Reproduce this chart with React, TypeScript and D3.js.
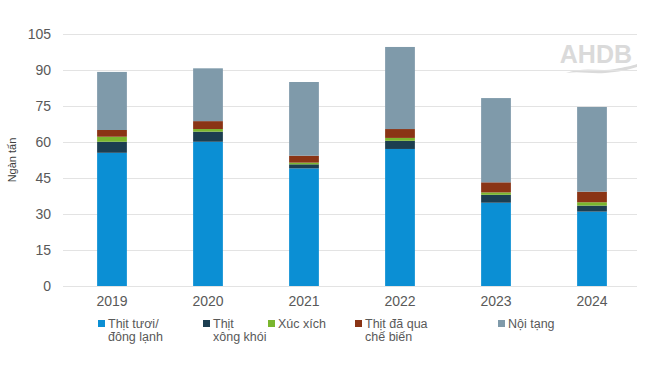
import React from "react";
import * as d3 from "d3";

const years = ["2019", "2020", "2021", "2022", "2023", "2024"];
const seriesNames = ["Thịt tươi/ đông lạnh", "Thịt xông khói", "Xúc xích", "Thịt đã qua chế biến", "Nội tạng"];
const fresh = [55.5, 60.1, 49.0, 57.1, 34.7, 31.0];
const smoked = [4.6, 4.2, 1.7, 3.4, 3.3, 2.5];
const sausage = [2.1, 1.1, 0.7, 1.2, 1.0, 1.4];
const processed = [2.8, 3.3, 2.9, 3.7, 4.2, 4.4];
const offal = [24.2, 22.0, 30.7, 34.2, 35.1, 35.3];
const yTicks = [0, 15, 30, 45, 60, 75, 90, 105];

const colors = ["#0b8fd4", "#1c3e50", "#7ab62e", "#8a3415", "#7f9aaa"];
const legendLines = [["Thịt tươi/", "đông lạnh"], ["Thịt", "xông khói"], ["Xúc xích"], ["Thịt đã qua", "chế biến"], ["Nội tạng"]];
const legendX = [98, 203, 268, 355, 498];

export default function App() {
  const width = 650;
  const height = 366;
  const svgRef = React.useRef<SVGSVGElement>(null);

  React.useEffect(() => {
    const svg = d3.select(svgRef.current);
    svg.selectAll("*").remove();

    const x = d3.scaleBand().domain(years).range([64, 640]).paddingInner(0.69).paddingOuter(0.345);
    const y = d3.scaleLinear().domain([0, 105]).range([286, 34]);

    const rows = years.map((yr, i) => ({
      year: yr,
      s0: fresh[i], s1: smoked[i], s2: sausage[i], s3: processed[i], s4: offal[i],
    }));
    const stack = d3.stack<any>().keys(["s0", "s1", "s2", "s3", "s4"]);
    const layers = stack(rows);

    // logo, behind the grid
    svg.append("text")
      .attr("x", 632)
      .attr("y", 63)
      .attr("text-anchor", "end")
      .style("font-size", "25px")
      .style("font-weight", "bold")
      .style("font-family", "Liberation Sans, Arial, sans-serif")
      .style("fill", "#dadada")
      .text("AHDB");
    svg.append("path")
      .attr("d", "M566,73 C585,66 600,72 615,69 C625,67 632,66 637,64 L637,67 C628,70 618,72 605,73 C590,74 580,71 566,73 Z")
      .attr("fill", "#dadada");

    // grid
    const yAxis = d3.axisLeft(y).tickValues(yTicks).tickSize(-574).tickPadding(12);
    svg.append("g")
      .attr("transform", "translate(63,0)")
      .call(yAxis)
      .call((g) => g.select(".domain").remove())
      .call((g) => g.selectAll(".tick line").attr("stroke", "#e3e3e3"))
      .selectAll("text")
      .style("font-size", "14px")
      .style("font-family", "Liberation Sans, Arial, sans-serif")
      .style("fill", "#595959");

    svg.append("g")
      .selectAll("g")
      .data(layers)
      .join("g")
      .attr("fill", (d, i) => colors[i])
      .selectAll("rect")
      .data((d) => d)
      .join("rect")
      .attr("x", (d: any) => x(d.data.year)!)
      .attr("width", x.bandwidth())
      .attr("y", (d) => y(d[1]))
      .attr("height", (d) => y(d[0]) - y(d[1]));

    const xAxis = d3.axisBottom(x).tickSize(0).tickPadding(10);
    svg.append("g")
      .attr("transform", "translate(0,286)")
      .call(xAxis)
      .call((g) => g.select(".domain").remove())
      .selectAll("text")
      .style("font-size", "14px")
      .style("font-family", "Liberation Sans, Arial, sans-serif")
      .style("fill", "#595959");

    svg.append("text")
      .attr("transform", "translate(16,160) rotate(-90)")
      .attr("text-anchor", "middle")
      .style("font-size", "11px")
      .style("font-family", "Liberation Sans, Arial, sans-serif")
      .style("fill", "#404040")
      .text("Ngàn tấn");

    const legend = svg.append("g").selectAll("g").data(seriesNames).join("g")
      .attr("transform", (d, i) => `translate(${legendX[i]},318)`);
    legend.append("rect").attr("width", 7).attr("height", 7).attr("y", 2).attr("fill", (d, i) => colors[i]);
    legend.each(function (d, i) {
      const t = d3.select(this).append("text")
        .attr("x", 10)
        .style("font-size", "12.5px")
        .style("font-family", "Liberation Sans, Arial, sans-serif")
        .style("fill", "#595959");
      legendLines[i].forEach((ln, j) => {
        t.append("tspan").attr("x", 10).attr("y", 10 + j * 13).text(ln);
      });
    });
  }, []);

  return (
    <svg
      ref={svgRef}
      width={width}
      height={height}
      style={{ position: "absolute", left: 0, top: 0, background: "#fff" }}
    />
  );
}
